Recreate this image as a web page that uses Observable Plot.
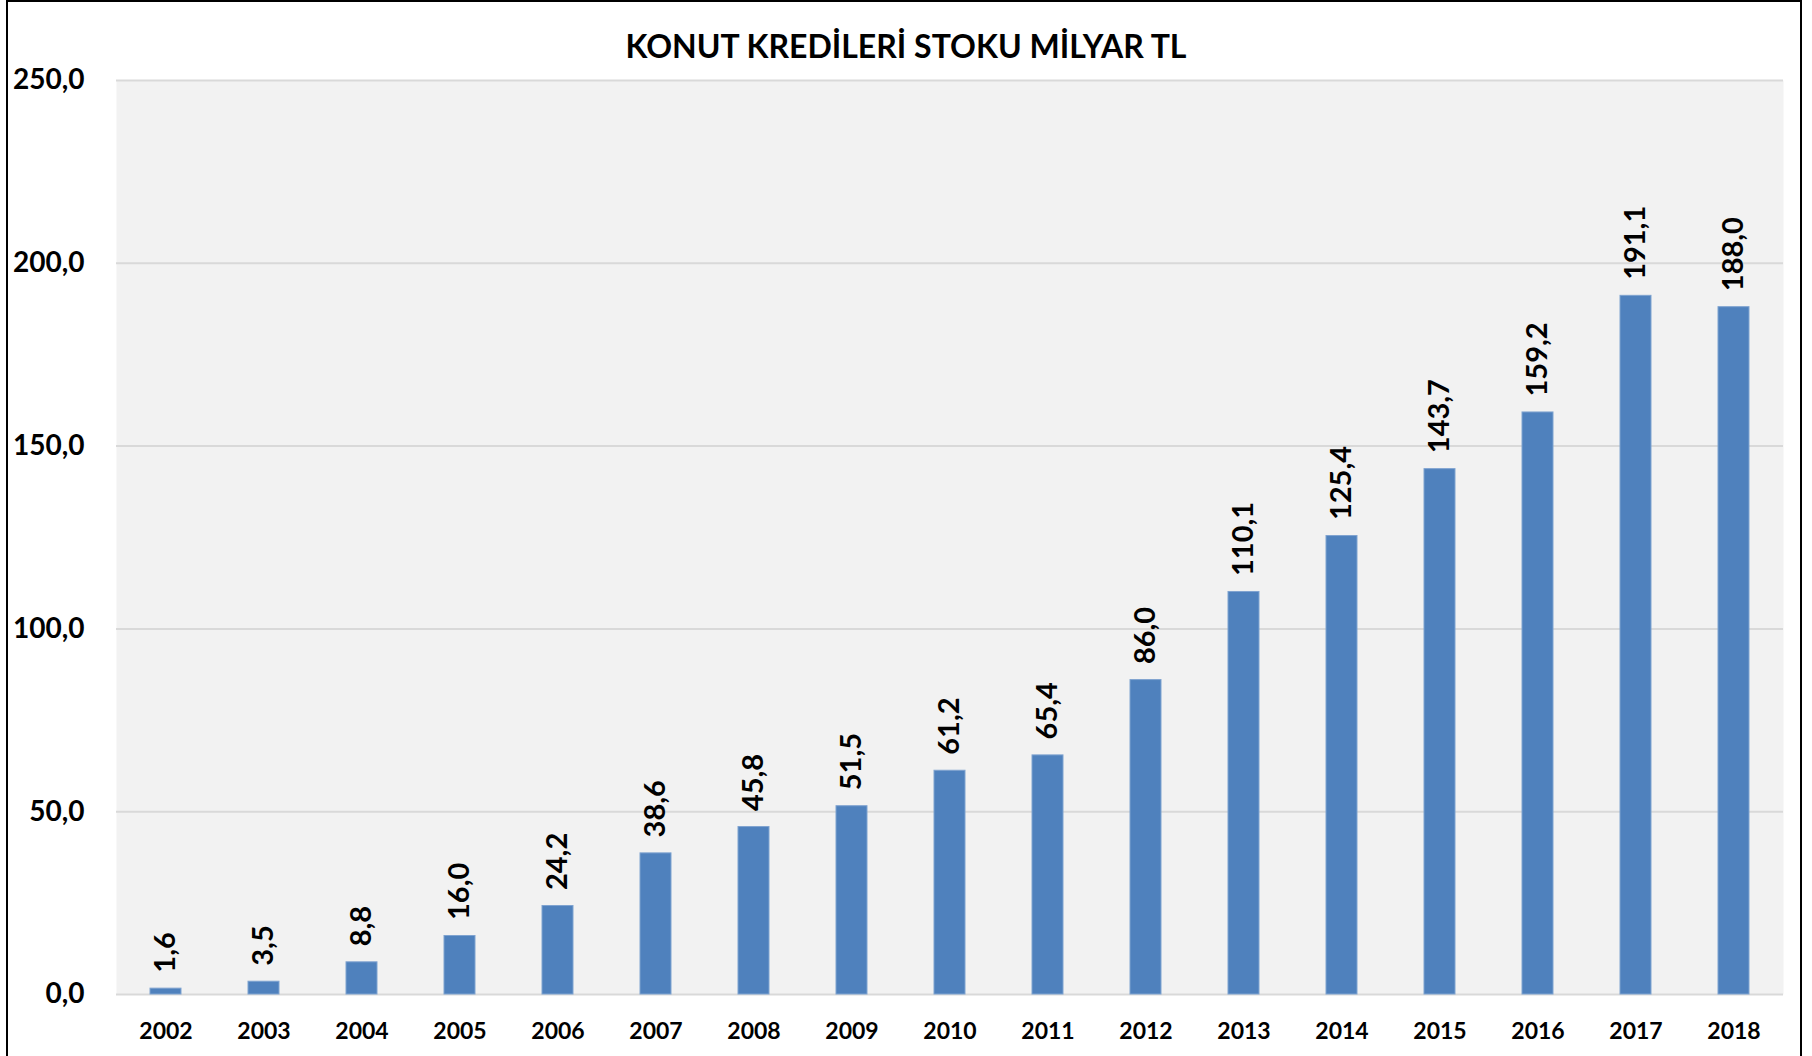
<!DOCTYPE html>
<html>
<head>
<meta charset="utf-8">
<script src="https://cdn.jsdelivr.net/npm/d3@7"></script>
<script src="https://cdn.jsdelivr.net/npm/@observablehq/plot@0.6"></script>
<style>
  html, body { margin: 0; padding: 0; background: #fff; }
  #wrap { position: relative; width: 1812px; height: 1056px; overflow: hidden; font-family: Lato, "Open Sans", sans-serif; }
  #border { position: absolute; left: 6px; top: 0px; width: 1792px; height: 1054px; border-left: 2px solid #000; border-right: 2px solid #000; border-top: 2px solid #000; border-bottom: 2px solid #eeeeee; pointer-events: none; }
  #title { position: absolute; left: 0; width: 1812px; top: 30px; text-align: center; font-size: 32px; line-height: 32px; font-weight: 700; color: #000; }
  #chart { position: absolute; left: 0; top: 0; }
</style>
</head>
<body>
<div id="wrap">
  <div id="chart"></div>
  <div id="title">KONUT KREDİLERİ STOKU MİLYAR TL</div>
  <div id="border"></div>
</div>
<script>
const years = ["2002","2003","2004","2005","2006","2007","2008","2009","2010","2011","2012","2013","2014","2015","2016","2017","2018"];
const values = [1.6, 3.5, 8.8, 16.0, 24.2, 38.6, 45.8, 51.5, 61.2, 65.4, 86.0, 110.1, 125.4, 143.7, 159.2, 191.1, 188.0];
const yTicks = [0, 50, 100, 150, 200, 250];

const data = years.map((y, i) => ({year: y, value: values[i]}));
const fmt = d => d.toFixed(1).replace(".", ",");

const chart = Plot.plot({
  width: 1812,
  height: 1056,
  marginTop: 80,
  marginBottom: 62,
  marginLeft: 116,
  marginRight: 29,
  style: {fontFamily: "Lato, 'Open Sans', sans-serif", background: "transparent", overflow: "visible"},
  x: {domain: years, paddingInner: 0.68, paddingOuter: 0.34, label: null},
  y: {domain: [0, 250], ticks: yTicks, label: null},
  marks: [
    Plot.frame({fill: "#F2F2F2", stroke: null}),
    Plot.gridY(yTicks, {stroke: "#D9D9D9", strokeOpacity: 1, strokeWidth: 2}),
    Plot.barY(data, {x: "year", y: "value", fill: "#4F81BD", stroke: "#7FA3D0", strokeWidth: 1}),
    Plot.text(data, {x: "year", y: "value", text: d => fmt(d.value), rotate: -90, textAnchor: "start", lineAnchor: "middle", dy: -16, fontSize: 29, fontWeight: 700, fill: "#000"}),
    Plot.axisY(yTicks, {tickSize: 0, tickPadding: 32, tickFormat: fmt, fontSize: 28, fontWeight: 700, fill: "#000", label: null}),
    Plot.axisX({tickSize: 0, tickPadding: 28, fontSize: 23, fontWeight: 700, fill: "#000", label: null})
  ]
});
document.getElementById("chart").appendChild(chart);
</script>
</body>
</html>
